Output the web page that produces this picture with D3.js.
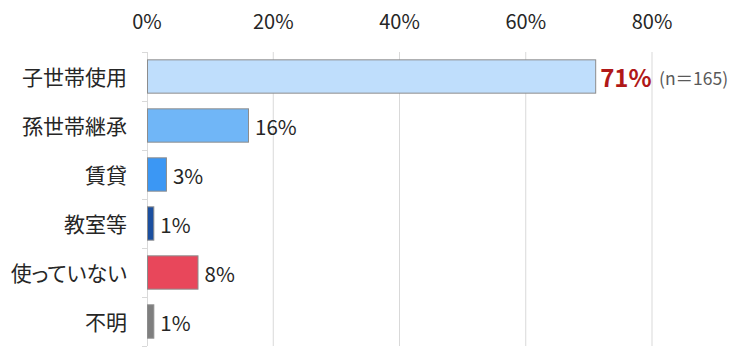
<!DOCTYPE html>
<html>
<head>
<meta charset="utf-8">
<script src="https://cdn.jsdelivr.net/npm/d3@7"></script>
<style>
  body { margin: 0; background: #fff; }
  text { font-family: "Noto Sans CJK JP", "Noto Sans", sans-serif; }
  .cat { font-feature-settings: "palt"; }
</style>
</head>
<body>
<svg id="chart" width="749" height="352"></svg>
<script>
const categories = ["子世帯使用", "孫世帯継承", "賃貸", "教室等", "使っていない", "不明"];
const values = [71, 16, 3, 1, 8, 1];
const colors = ["#bfdefc", "#70b6f7", "#3b97f4", "#1b4f9f", "#e8475b", "#7f7f7f"];
const ticks = [0, 20, 40, 60, 80];
const note = "(n＝165)";

const svg = d3.select("#chart");
const m = { left: 147, top: 52, right: 21, bottom: 6 };
const W = 749, H = 352;

const x = d3.scaleLinear().domain([0, 80]).range([m.left, 652]);
const y = d3.scaleBand().domain(categories).range([m.top, H - m.bottom]).paddingInner(0.32).paddingOuter(0.16);

// グリッド線
svg.selectAll(".grid")
  .data(ticks.slice(1))
  .enter().append("line")
  .attr("x1", d => x(d)).attr("x2", d => x(d))
  .attr("y1", m.top).attr("y2", H - m.bottom)
  .attr("stroke", "#d9d9d9").attr("stroke-width", 1);

// 上の目盛りラベル
svg.selectAll(".tick-label")
  .data(ticks)
  .enter().append("text")
  .attr("x", d => x(d)).attr("y", 29)
  .attr("text-anchor", "middle")
  .attr("font-size", 20).attr("fill", "#262626")
  .text(d => d + "%");

// 縦軸
const band = y.step();
svg.append("line")
  .attr("x1", m.left + 0.5).attr("x2", m.left + 0.5)
  .attr("y1", m.top).attr("y2", H - m.bottom)
  .attr("stroke", "#d9d9d9");
svg.selectAll(".ytick")
  .data(d3.range(categories.length + 1))
  .enter().append("line")
  .attr("x1", m.left - 5).attr("x2", m.left)
  .attr("y1", i => m.top + i * band + 0.5).attr("y2", i => m.top + i * band + 0.5)
  .attr("stroke", "#d9d9d9");

// バー
svg.selectAll(".bar")
  .data(categories)
  .enter().append("rect")
  .attr("x", x(0) + 0.5)
  .attr("y", d => y(d))
  .attr("width", (d, i) => x(values[i]) - x(0))
  .attr("height", y.bandwidth())
  .attr("fill", (d, i) => colors[i])
  .attr("stroke", "#8c8c8c").attr("stroke-width", 1);

// カテゴリ名
svg.selectAll(".cat")
  .data(categories)
  .enter().append("text")
  .attr("class", "cat")
  .attr("x", 127)
  .attr("y", d => y(d) + y.bandwidth() / 2 + 1)
  .attr("dy", "0.35em")
  .attr("text-anchor", "end")
  .attr("font-size", 21).attr("fill", "#262626")
  .text(d => d);

// 値ラベル
svg.selectAll(".val")
  .data(categories)
  .enter().append("text")
  .attr("x", (d, i) => x(values[i]) + (i === 0 ? 5 : 7))
  .attr("y", d => y(d) + y.bandwidth() / 2 + 2)
  .attr("dy", "0.35em")
  .attr("font-size", (d, i) => i === 0 ? 24 : 20.5)
  .attr("font-weight", (d, i) => i === 0 ? "bold" : "normal")
  .attr("fill", (d, i) => i === 0 ? "#b01818" : "#262626")
  .text((d, i) => values[i] + "%");

svg.append("text")
  .attr("x", 659)
  .attr("y", y(categories[0]) + y.bandwidth() / 2 + 2)
  .attr("dy", "0.35em")
  .attr("font-size", 17.5).attr("fill", "#595959")
  .text(note);
</script>
</body>
</html>
